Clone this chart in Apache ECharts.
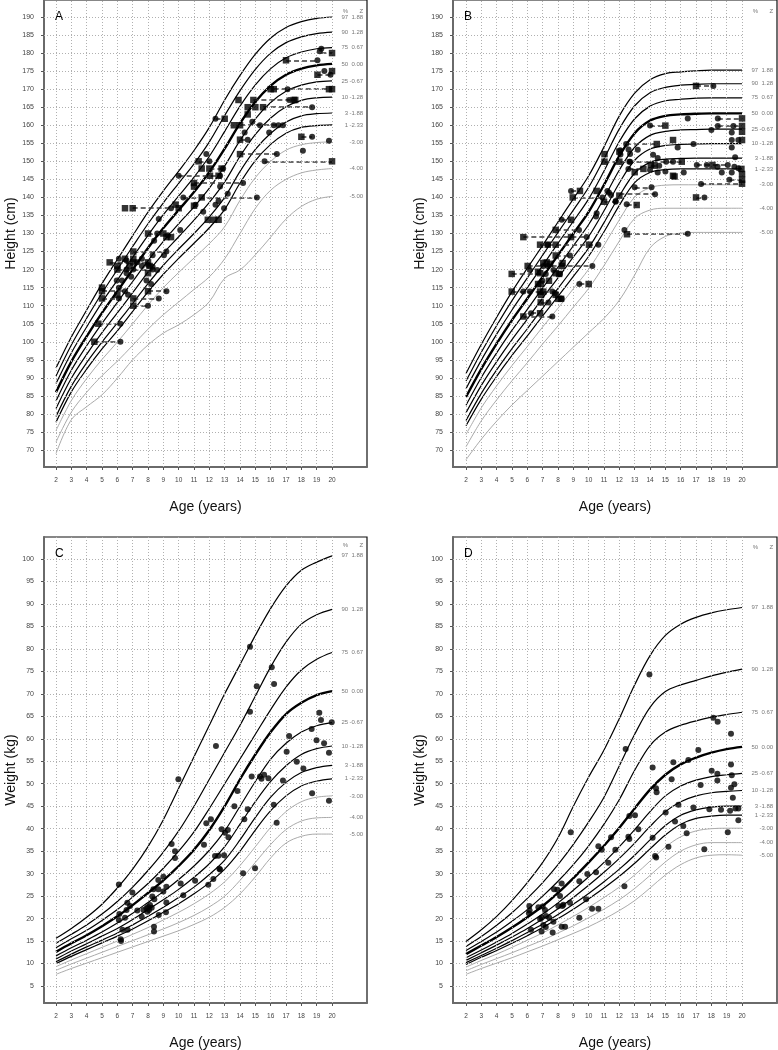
<!DOCTYPE html>
<html><head><meta charset="utf-8">
<script src="https://cdn.jsdelivr.net/npm/echarts@6/dist/echarts.min.js"></script>
<style>html,body{margin:0;padding:0;background:#fff}#c{width:778px;height:1050px}</style>
</head><body><div id="c"></div>
<script>
// ---------- axes / ticks ----------
const ages = [2,3,4,5,6,7,8,9,10,11,12,13,14,15,16,17,18,19,20];
const ageTicks = [2,3,4,5,6,7,8,9,10,11,12,13,14,15,16,17,18,19,20];
const heightTicks = [70,75,80,85,90,95,100,105,110,115,120,125,130,135,140,145,150,155,160,165,170,175,180,185,190];
const weightTicks = [5,10,15,20,25,30,35,40,45,50,55,60,65,70,75,80,85,90,95,100];
const pctLabels = ['97','90','75','50','25','10','3','1','','',''];
const zLabels = ['1.88','1.28','0.67','0.00','-0.67','-1.28','-1.88','-2.33','-3.00','-4.00','-5.00'];

// ---------- Panel A: height ----------
const p97A = [92.7,101.3,108.8,116.1,122.8,129.4,135.9,141.8,147.3,153,159.4,167,173.8,179.7,184.2,187.1,188.7,189.6,190.0];
const p90A = [90.5,99.1,106.5,113.5,120,126.4,132.7,138.5,143.9,149.3,155.4,162.7,169.6,175.5,180,182.9,184.5,185.4,185.8];
const p75A = [88.4,96.9,104.1,110.9,117.1,123.4,129.5,135.2,140.4,145.6,151.4,158.3,165.3,171.2,175.7,178.7,180.3,181.2,181.5];
const p50A = [86,94.5,101.5,108,114,120,126,131.5,136.5,141.5,147,153.5,160.5,166.5,171,174,175.7,176.6,177];
const p25A = [83.6,92.1,98.9,105.1,110.9,116.7,122.5,127.8,132.7,137.4,142.6,148.7,155.8,161.8,166.3,169.4,171.1,172,172.3];
const p10A = [81.5,89.9,96.5,102.5,108,113.6,119.3,124.5,129.1,133.7,138.6,144.3,151.4,157.5,162,165.1,166.9,167.6,167.8];
const p3A  = [79.3,87.7,94.2,99.9,105.2,110.6,116.1,121.2,125.7,130,134.6,140,147.2,153.3,157.8,160.9,162.6,163.2,163.4];
const p1A  = [77.7,86.1,92.4,98,103,108.4,113.8,118.7,123.1,127.3,131.6,136.7,144,150.2,154.7,157.8,159.4,159.9,160.1];
const m3A  = [75.4,83.7,89.8,95.1,99.9,105,110.2,115,119.2,123.2,127.2,131.9,139.2,145.5,150,153.1,154.6,155.2,155.4];
const m4A  = [72.2,80.5,86,90.6,94.6,99,103.5,107.5,111,114.5,118,123,130,137,142,145,146.8,147.6,148];
const m5A  = [69,78.4,82,85.3,89.9,95,99.1,102.4,104.7,107.5,111.1,117.6,119.9,124.1,129,134,137.5,139.5,140.3];

const circlesA = [[19.2,180.5],[19.3,181.2],[19.05,178],[19.5,175],[19.9,174],[17.1,170],[17.2,167],[18.7,165],[14.8,161],[15.3,160],[16.2,160],[16.5,160],[16.8,160],[14.3,158],[14.5,156],[15.9,158],[18.7,156.8],[19.8,155.7],[18.1,152.9],[16.4,152],[15.6,150],[12.4,161.8],[11.8,152],[12.0,150],[12.9,148],[10.0,146],[12.7,146],[14.2,144],[12.7,143],[10.3,140],[15.1,140],[13.2,141],[12.6,139],[12.4,138],[9.5,137],[11.1,138],[11.6,136],[12.96,137],[8.7,134],[10.1,131],[8.6,130],[8.4,128],[9.3,129.5],
[9.2,125],[8.3,124],[9.04,124],[6.1,123],[7.6,123],[7.6,121],[8.0,121.3],[8.3,120.8],[8.6,119.9],[8.3,120],[6.6,120],[7.04,120],[6.6,119],[6.9,118],[5.96,117],[6.3,117],[7.9,117],[8.2,116],[6.1,115],[6.5,114],[6.7,113],[6.1,112],[9.2,114],[8.7,112],[8.0,110],[6.2,105],[6.2,100],[6.6,122.5],[7.3,122]];
const squaresA = [[20,180],[17.0,178],[19.05,174],[20,175],[16.0,170],[16.2,170],[19.8,170],[20,170],[13.9,167],[14.87,167],[17.5,167],[17.6,167],[14.5,165],[15.0,165],[15.5,165],[14.5,163],[13.6,160],[14.0,160],[14.0,156],[18.0,156.8],[14.0,152],[20,150],[13.0,161.8],[11.3,150],[11.5,148],[12.0,148],[12.8,148],[12.04,146],[12.6,146],[11.0,144],[11.0,143],[11.5,140],[6.5,137],[7.0,137],[9.8,138],[10.0,137],[11.0,137.7],[11.9,133.8],[12.3,133.8],[12.6,133.8],[8.0,130],[9.0,130],[9.2,129],[9.5,129],
[7.04,125],[5.5,122],[6.5,123],[7.04,123],[6.0,121],[6.0,120],[7.04,122],[8.0,122],[8.0,119],[8.1,121],[5.0,115],[5.0,114],[6.0,113],[5.0,112],[8.0,114],[7.04,112],[7.04,110],[4.76,105],[4.5,100],[6.8,121]];
// [height, age1, age2]
const linksA = [[180,19.3,20],[178,17.0,19.05],[174,19.05,19.9],[170,16.2,20],[167,14.87,17.6],[165,15.5,18.7],[160,14.0,16.8],[156,14.0,14.5],[156.8,18.0,18.7],[152,14.0,16.4],[150,15.6,20],[161.8,12.4,13.0],[148,12.0,12.9],[146,10.0,12.6],[144,11.0,14.2],[140,10.3,15.1],[137,7.0,9.5],[130,8.0,9.0],[125,7.04,9.2],[122,5.5,8.0],[114,8.0,9.2],[112,7.04,8.7],[110,7.04,8.0],[105,4.76,6.2],[100,4.5,6.2],[114,5.0,6.5],[112,5.0,6.1],[120,6.0,8.3],[150,11.3,12.0]];

// ---------- Panel B: height ----------
const p97B = [91.2,99.3,106.8,113.9,120.4,126.7,133.2,139.6,146,154,162.6,168.9,172.6,174.3,174.8,175.1,175.3,175.3,175.3];
const p90B = [89.1,97.1,104.5,111.4,117.7,124,130.3,136.5,142.8,150.7,159,165.4,169,170.5,171.1,171.3,171.5,171.5,171.5];
const p75B = [87,94.9,102.1,108.8,115,121.1,127.3,133.4,139.6,147.3,155.5,161.8,165.3,166.8,167.2,167.5,167.6,167.6,167.6];
const p50B = [84.7,92.5,99.5,106,112,118,124,130,136,143.5,151.5,157.8,161.3,162.6,163,163.2,163.3,163.3,163.3];
const p25B = [82.4,90.1,96.9,103.2,109,114.9,120.7,126.6,132.5,139.8,147.6,153.9,157.2,158.3,158.7,158.8,158.9,158.9,158.9];
const p10B = [80.3,87.9,94.5,100.6,106.3,112.1,117.7,123.5,129.2,136.3,144,150.3,153.4,154.4,154.7,154.8,154.9,154.9,154.9];
const p3B  = [78.2,85.7,92.2,98.1,103.6,109.3,114.8,120.4,126,133,140.4,146.7,149.7,150.6,150.8,150.9,150.9,150.9,150.9];
const p1B  = [76.7,84.1,90.4,96.2,101.6,107.2,112.6,118.1,123.7,130.5,137.8,144.1,146.9,147.7,147.9,147.9,147.9,147.9,147.9];
const m3B  = [74.3,81.7,87.8,93.4,98.7,104.1,109.3,114.7,120.1,126.7,133.8,140.1,142.7,143.4,143.5,143.5,143.5,143.5,143.5];
const m4B  = [70.9,78.1,83.9,89.2,94.2,99.4,104.4,109.6,114.8,121.1,127.9,134.2,136.5,137,137,137,137,137,137];
const m5B  = [67.3,73,78,82.5,86.5,90.5,94.5,98.5,102.5,106.5,111.5,118.5,126,129.2,130.1,130.3,130.3,130.3,130.3];

const circlesB = [[18.13,170.9],[16.46,161.9],[18.42,161.9],[14.0,159.9],[18.42,159.8],[19.44,159.8],[18.0,158.7],[19.33,158.0],[16.83,154.8],[15.8,153.8],[19.33,155.9],[19.76,155.9],[19.33,153.8],[19.55,151.1],[12.44,154.8],[12.05,153.1],[12.7,152],[13.2,153.2],[14.2,151.8],[14.5,150.9],[12.7,149.9],[15.05,149.9],[15.5,149.9],[12.59,147.9],[14.0,147.6],[14.6,148.8],[14.5,146.9],[15.0,147.2],[16.2,146.9],[17.05,149],[17.7,149],[18.4,148.5],[18.68,146.9],[19.07,149],[19.33,146.9],[19.5,148.5],[19.76,148.1],[19.18,144.9],[17.33,143.7],[17.55,140],[13.0,142.8],[14.1,142.8],[14.33,140.9],[11.76,139.0],[12.48,138.1],[12.33,131],[16.46,129.9],[12.07,151.9],[12.6,153.3],[12.65,149.9],
[8.85,141.8],[10.9,140],[11.76,138.8],[11.22,141.8],[11.33,141.3],[11.46,140.7],[8.24,133.8],[10.52,135.6],[10.48,134.7],[9.37,131],[9.87,129],[10.63,126.9],[7.33,126.9],[8.78,123.9],
[10.24,121],[7.33,121],[6.17,119.9],[7.2,118.8],[7.7,119.9],[8.13,118.8],[6.98,116.9],[9.39,116],[5.74,113.9],[6.17,113.9],[7.63,113.9],[7.8,113.5],[8.24,111.9],[7.37,110.9],[6.24,107.9],[7.63,107],[7.04,121]];
const squaresB = [[17.0,170.9],[20,161.9],[15.0,159.9],[20,159.8],[20,158.2],[15.5,155.9],[20,155.9],[14.44,154.8],[11.03,152],[12.0,152.7],[11.03,149.9],[12.0,149.9],[16.07,149.9],[13.0,147],[13.57,147.9],[14.05,149],[14.3,148.8],[15.5,146],[15.6,145.8],[18.07,149],[19.96,147.9],[20,146.5],[20,144.9],[20,143.8],[17.0,140],[12.0,140.5],[13.13,137.9],[12.5,129.8],
[9.43,141.8],[8.96,140],[11.0,138.8],[10.52,141.8],[8.85,133.8],[7.85,131],[5.74,129],[8.85,129],[6.83,126.9],[7.33,126.9],[7.85,126.9],[10.02,126.9],[7.85,123.9],
[6.02,121],[7.04,121.8],[7.26,122],[7.48,121.6],[8.24,121],[8.3,121.8],[6.7,119.4],[6.83,119],[4.98,118.8],[7.85,119],[8.07,118.8],[7.41,116.9],[6.7,116],[6.89,116],[10.0,116],[4.98,113.9],[6.83,113.9],[7.04,113.9],[6.89,113],[7.85,113],[8.02,111.9],[8.2,111.9],[6.87,110.9],[6.83,107.9],[5.74,107]];
const linksB = [[170.9,17.0,18.13],[161.9,18.42,20],[159.9,14.0,15.0],[159.8,18.42,20],[154.8,12.44,14.44],[149.9,11.03,16.07],[149,17.05,19.07],[143.8,17.33,20],[144.9,19.18,20],[140,17.0,17.55],[142.8,13.0,14.1],[140.9,12.0,14.33],[137.9,12.48,13.13],[129.9,12.5,16.46],[141.8,8.85,9.43],[140,8.96,10.9],[138.8,11.0,11.76],[133.8,8.24,8.85],[131,7.85,9.37],[129,5.74,9.87],[126.9,6.83,10.63],[123.9,7.85,8.78],[121,6.02,10.24],[118.8,4.98,7.2],[116,9.39,10.0],[113.9,4.98,7.63],[110.9,6.87,7.37],[107.9,6.24,6.83],[107,5.74,7.63],[148.8,14.05,14.6],[147.9,12.59,13.57]];

// ---------- Panel C: weight ----------
const p97C = [15.6,17.8,20.3,23.2,26.8,31,36,42,49,56,63,70,76.5,83,89,94,97.5,99.3,100.7];
const p90C = [14.5,16.5,18.6,21,23.8,27,30.7,34.8,39.5,45,51,57,63,69.5,76,81.5,85.5,87.6,88.8];
const p75C = [13.5,15.5,17.4,19.6,22,24.8,27.8,31.2,35,39.3,44.5,50,55.5,61,66.5,71.5,75.3,77.7,79.2];
const p50C = [12.6,14.5,16.3,18.3,20.5,23,25.7,28.5,31.7,35.3,39.7,45,51,56.5,61.5,65.5,68,69.7,70.6];
const p25C = [11.7,13.5,15.2,17,19,21.2,23.6,26,28.7,31.7,35.2,39.5,45,50.5,55.5,59,61.5,62.9,63.6];
const p10C = [11,12.8,14.4,16.1,17.8,19.8,22,24.2,26.5,29.2,32.2,36,41,46,50.5,54,56.5,57.8,58.4];
const p3C  = [10.4,12.1,13.7,15.2,16.8,18.6,20.5,22.5,24.7,27,29.8,33,37.5,42.5,47,50.3,52.5,53.6,54.1];
const p1C  = [10,11.6,13.1,14.6,16.1,17.7,19.5,21.4,23.3,25.5,28,31,35,39.7,44,47.3,49.5,50.6,51.1];
const m3C  = [9.3,10.8,12.2,13.6,15,16.5,18,19.7,21.4,23.3,25.5,28.2,31.8,36,40.3,43.8,46,47,47.3];
const m4C  = [8.5,9.9,11.2,12.5,13.8,15.1,16.4,17.7,19.1,20.7,22.6,25,28.5,32.5,36.5,39.8,41.7,42.4,42.5];
const m5C  = [7.6,8.9,10.1,11.3,12.5,13.7,14.9,16.1,17.3,18.7,20.3,22.5,25.5,29.3,33.5,36.8,38.3,38.8,38.8];
const circlesC = [[9.98,51.0],[12.43,58.4],[14.65,80.5],[16.07,75.9],[15.09,71.7],[16.22,72.2],[14.65,66.0],[17.2,60.6],[19.17,65.8],[19.28,64.2],[18.67,62.2],[19.98,63.7],[17.04,57.1],[18.99,59.7],[19.48,59.0],[19.8,56.9],[17.7,54.9],[18.13,53.4],[14.76,51.6],[15.3,51.6],[15.4,51.1],[15.57,52.0],[15.85,51.2],[16.8,50.7],
[18.7,47.9],[19.8,46.2],[13.83,48.4],[13.63,45.0],[14.5,44.3],[14.28,42.1],[16.39,41.3],[16.2,45.3],[12.1,42.1],[11.8,41.2],[12.8,39.9],[13.02,39.1],[13.2,39.7],[13.24,38.1],[11.65,36.4],[9.54,36.6],[9.76,35.0],[9.76,33.5],[12.37,33.9],[12.59,34.0],[12.96,34.1],[12.7,30.9],[12.65,31.1],[14.98,31.2],[14.2,30.1],[11.07,28.4],[11.93,27.5],[12.26,28.8],[10.13,27.8],[10.3,25.2],[8.67,28.6],[9.0,29.3],[9.2,27.1],[9.0,26.0],[8.67,26.5],[8.35,26.5],[8.41,24.3],[8.28,24.9],[9.2,23.6],[9.17,21.4],[8.7,20.8],[6.1,27.6],[6.98,25.8],[6.65,23.5],[6.83,22.8],[6.6,21.9],[6.13,21.0],[6.5,20.2],[6.1,19.7],[6.33,17.5],[6.67,17.5],[6.22,15.4],[6.24,15.0],[7.59,20.4],[7.7,21.9],[7.9,22.3],[8.0,22.6],[8.07,21.9],[7.96,21.5],[8.24,22.4],[8.13,23.0],[8.39,18.2],[8.39,17.1],[7.3,21.8]];

// ---------- Panel D: weight ----------
const p97D = [14.9,17.5,20.5,24,28,32.5,38,45,51.5,57.5,64.5,72,78.5,83,85.5,87,88,88.7,89.2];
const p90D = [13.8,16,18.5,21.3,24.5,28,32,36.5,41.5,47,54,61,67,70.5,72,73,74,74.8,75.5];
const p75D = [12.9,14.9,17,19.4,22,25,28.3,32,36.2,41,46.5,53,58.5,61.5,63,64,64.8,65.4,65.9];
const p50D = [12.1,14,15.9,18,20.3,22.8,25.7,29,32.5,36.2,40.2,44.5,48.7,52,54.3,55.8,56.9,57.7,58.2];
const p25D = [11.3,13,14.8,16.7,18.8,21,23.5,26.3,29.3,32.5,36,39.8,43.8,47.3,49.5,50.8,51.6,52,52.3];
const p10D = [10.7,12.4,14.1,15.9,17.8,19.9,22.2,24.7,27.4,30.3,33.4,36.8,40.5,43.8,46,47.3,48,48.3,48.5];
const p3D  = [10.2,11.8,13.4,15.1,16.9,18.8,20.9,23.2,25.6,28.2,31,34.1,37.5,40.7,43,44.2,44.8,45,45];
const p1D  = [9.8,11.4,12.9,14.5,16.2,18,20,22.1,24.4,26.8,29.4,32.3,35.5,38.6,41,42.3,42.8,43,43];
const m3D  = [9.2,10.7,12.1,13.6,15.2,16.8,18.6,20.5,22.5,24.7,27,29.7,32.8,35.9,38.2,39.5,40,40.1,40.1];
const m4D  = [8.4,9.8,11.1,12.4,13.8,15.2,16.8,18.4,20.2,22.1,24.2,26.7,29.6,32.6,35,36.4,36.9,36.9,36.9];
const m5D  = [7.6,8.9,10.1,11.3,12.6,13.9,15.3,16.7,18.2,19.9,21.8,24,26.8,29.7,32,33.5,34.1,34.2,34.1];
const circlesD = [[13.96,74.3],[12.41,57.7],[18.41,63.8],[18.13,64.7],[19.28,61.1],[17.15,57.5],[16.5,55.3],[15.52,54.8],[14.17,53.6],[19.28,54.3],[18.02,52.9],[18.39,52.2],[15.41,51.0],[19.33,51.9],[18.39,50.7],[17.3,49.7],[19.28,49.1],[19.5,49.9],[14.39,49.0],[14.43,48.1],[19.4,46.9],[15.85,45.3],[15.02,43.6],[16.83,44.7],[17.87,44.3],[18.63,44.2],[19.22,44.0],[19.57,44.5],[19.76,44.5],[19.76,41.9],[19.07,39.2],[15.63,41.6],[16.17,40.6],[16.39,39.0],[17.54,35.4],[15.2,36.0],[14.17,38.0],[14.33,33.9],[14.4,33.6],[13.24,39.9],[13.02,43.0],[12.65,42.8],[12.59,38.2],[12.65,37.7],[12.33,27.2],[11.46,38.1],[10.85,35.3],[11.28,32.4],[10.63,36.1],[11.74,35.3],[10.48,30.3],[9.91,29.9],[9.39,28.3],[8.83,39.2],[8.78,23.5],[9.39,20.2],[9.83,24.3],[10.22,22.2],[10.63,22.2],[8.24,27.8],[7.74,26.5],[7.96,26.4],[8.13,25.0],[8.02,22.8],[8.28,22.8],[8.35,23.1],[8.24,18.2],[8.46,18.2],[7.65,16.9],[7.7,19.3],[7.43,20.2],[7.22,20.6],[7.15,21.9],[7.0,22.7],[6.72,22.5],[6.13,22.8],[6.15,21.8],[6.1,21.2],[6.24,17.5],[6.83,19.9],[6.93,20.2],[7.04,18.6],[7.2,18.1],[6.93,17.1]];

// ---------- layout ----------
const panels = [
  {letter:'A', left:44, top:0, width:323, height:467, xMin:1.217, xMax:22.28, yMin:65.29, yMax:194.71, ticks:heightTicks, yName:'Height (cm)', header:191.5,
   curves:[p97A,p90A,p75A,p50A,p25A,p10A,p3A,p1A,m3A,m4A,m5A], circles:circlesA, squares:squaresA, links:linksA},
  {letter:'B', left:453, top:0, width:324, height:467, xMin:1.152, xMax:22.28, yMin:65.29, yMax:194.71, ticks:heightTicks, yName:'Height (cm)', header:191.7,
   curves:[p97B,p90B,p75B,p50B,p25B,p10B,p3B,p1B,m3B,m4B,m5B], circles:circlesB, squares:squaresB, links:linksB},
  {letter:'C', left:44, top:537, width:323, height:466, xMin:1.217, xMax:22.28, yMin:1.22, yMax:104.89, ticks:weightTicks, yName:'Weight (kg)', header:103.1,
   curves:[p97C,p90C,p75C,p50C,p25C,p10C,p3C,p1C,m3C,m4C,m5C], circles:circlesC, squares:[], links:[]},
  {letter:'D', left:453, top:537, width:324, height:466, xMin:1.152, xMax:22.28, yMin:1.22, yMax:104.89, ticks:weightTicks, yName:'Weight (kg)', header:102.7,
   curves:[p97D,p90D,p75D,p50D,p25D,p10D,p3D,p1D,m3D,m4D,m5D], circles:circlesD, squares:[], links:[]}
];

const FONT = 'Liberation Sans, Arial, sans-serif';
const grids = [], xAxes = [], yAxes = [], series = [], graphics = [];
const richLab = {p:{width:13, align:'right', fontSize:6, color:'#555', fontFamily:FONT}, z:{width:15, align:'right', fontSize:6, color:'#555', fontFamily:FONT}};

panels.forEach((P, g) => {
  grids.push({left:P.left, top:P.top, width:P.width, height:P.height, show:true, borderColor:'#111', borderWidth:1.2, backgroundColor:'#fff', containLabel:false, outerBoundsMode:'none'});
  xAxes.push({gridIndex:g, type:'value', min:P.xMin, max:P.xMax,
    axisLine:{show:true, onZero:false, lineStyle:{color:'#6a6a6a', width:2}},
    axisTick:{show:true, customValues:ageTicks, length:3, lineStyle:{color:'#555', width:1}},
    axisLabel:{customValues:ageTicks, fontSize:6.5, color:'#444', margin:10, fontFamily:FONT},
    splitLine:{show:false},
    name:'Age (years)', nameLocation:'middle', nameGap:33, nameTextStyle:{fontSize:14, color:'#111', fontFamily:FONT}});
  yAxes.push({gridIndex:g, type:'value', min:P.yMin, max:P.yMax,
    axisLine:{show:true, onZero:false, lineStyle:{color:'#6a6a6a', width:2}},
    axisTick:{show:true, customValues:P.ticks, length:3, lineStyle:{color:'#555', width:1}},
    axisLabel:{customValues:P.ticks, fontSize:7, color:'#444', margin:10, fontFamily:FONT},
    splitLine:{show:false},
    name:P.yName, nameLocation:'middle', nameGap:25, nameTextStyle:{fontSize:14, color:'#111', fontFamily:FONT}});

  // grid lines (dotted), bounded to the chart region
  const gl = [];
  ageTicks.forEach(a => gl.push([{coord:[a, P.yMin]}, {coord:[a, P.yMax]}]));
  P.ticks.forEach(v => gl.push([{coord:[P.xMin, v]}, {coord:[ageTicks[ageTicks.length-1], v]}]));
  series.push({type:'line', xAxisIndex:g, yAxisIndex:g, data:[], silent:true, z:1, animation:false,
    markLine:{silent:true, symbol:['none','none'], animation:false, label:{show:false},
      lineStyle:{type:[1,2], color:'#b0b0b0', width:1}, emphasis:{disabled:true}, data:gl}});

  // reference curves
  P.curves.forEach((arr, k) => {
    const style = k === 3 ? {color:'#000', width:2.4} : (k >= 8 ? {color:'#a0a0a0', width:0.9} : {color:'#000', width:1.2});
    series.push({type:'line', xAxisIndex:g, yAxisIndex:g, data:ages.map((a,i)=>[a, arr[i]]),
      showSymbol:false, smooth:0.35, lineStyle:style, silent:true, z:3, animation:false});
  });
  // curve labels at right
  const labData = P.curves.map((arr,k) => ({value:[ages[ages.length-1], arr[arr.length-1]],
     label:{formatter:'{p|' + (pctLabels[k] || ' ') + '}{z|' + zLabels[k] + '}'}}));
  labData.push({value:[ages[ages.length-1], P.header], label:{formatter:'{p|%}{z|Z}'}});
  series.push({type:'scatter', xAxisIndex:g, yAxisIndex:g, symbolSize:0.1, itemStyle:{color:'rgba(0,0,0,0)'}, silent:true, z:6, animation:false,
    label:{show:true, position:'right', distance:3, rich:richLab}, data:labData});

  // dashed links
  if (P.links.length) series.push({type:'lines', coordinateSystem:'cartesian2d', xAxisIndex:g, yAxisIndex:g, silent:true, z:4, animation:false,
    lineStyle:{type:[5,3], color:'#3a3a3a', width:1.5, opacity:1},
    data:P.links.map(l => ({coords:[[l[1], l[0]], [l[2], l[0]]]}))});
  // points
  series.push({type:'scatter', xAxisIndex:g, yAxisIndex:g, symbol:'circle', symbolSize:6, itemStyle:{color:'#000'}, silent:true, z:5, animation:false, data:P.circles});
  if (P.squares.length) series.push({type:'scatter', xAxisIndex:g, yAxisIndex:g, symbol:'rect', symbolSize:6.5, itemStyle:{color:'#000'}, silent:true, z:5, animation:false, data:P.squares});

  graphics.push({type:'text', left:P.left+11, top:P.top+11, z:10, style:{text:P.letter, fontSize:12, fill:'#000', fontFamily:FONT}});
});

const chart = echarts.init(document.getElementById('c'), null, {renderer:'canvas'});
chart.setOption({animation:false, backgroundColor:'#fff', textStyle:{fontFamily:FONT},
  grid:grids, xAxis:xAxes, yAxis:yAxes, series:series, graphic:graphics});
</script>
</body></html>
